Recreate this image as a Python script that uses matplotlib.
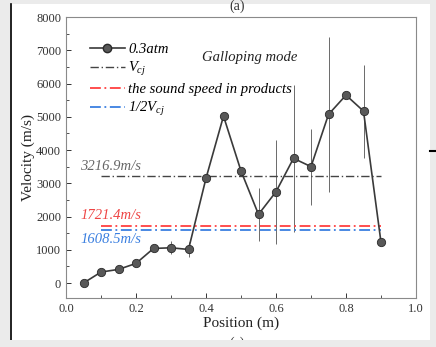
import numpy as np
import matplotlib.pyplot as plt
from matplotlib.patches import Rectangle
from matplotlib.lines import Line2D

# measured velocity along the tube, 0.3 atm
position = [0.05, 0.10, 0.15, 0.20, 0.25, 0.30, 0.35, 0.40, 0.45,
            0.50, 0.55, 0.60, 0.65, 0.70, 0.75, 0.80, 0.85, 0.90]
velocity = [0, 330, 410, 590, 1040, 1060, 1010, 3150, 5020,
            3370, 2065, 2745, 3750, 3500, 5070, 5650, 5170, 1225]
vel_err = [0, 0, 0, 0, 0, 200, 230, 0, 0,
           0, 800, 1570, 2210, 1140, 2320, 0, 1400, 0]

v_cj = 3216.9
sound_speed = 1721.4
half_v_cj = 1608.5
ref_x = [0.1, 0.9]

serif = 'Liberation Serif'
plt.rcParams['font.family'] = serif
plt.rcParams['font.size'] = 9
plt.rcParams['mathtext.fontset'] = 'custom'
plt.rcParams['mathtext.rm'] = serif
plt.rcParams['mathtext.it'] = serif + ':italic'

fig = plt.figure(figsize=(4.36, 3.47), dpi=100)
fig.patch.set_facecolor('#ebebeb')
fig.add_artist(Rectangle((12 / 436, 1 - 340 / 347), 418 / 436, 336 / 347,
                         transform=fig.transFigure, facecolor='white',
                         edgecolor='none', zorder=-5))
fig.add_artist(Line2D([11 / 436, 11 / 436], [1 - 340 / 347, 1 - 4 / 347],
                      transform=fig.transFigure, color='black', lw=1.2))
fig.add_artist(Line2D([430 / 436, 1.0], [1 - 151 / 347, 1 - 151 / 347],
                      transform=fig.transFigure, color='black', lw=1.5))

ax = fig.add_axes([66 / 436, 1 - 298 / 347, 350 / 436, 281 / 347])
ax.set_facecolor('white')

# error bars drawn separately so their grey differs from the line
err = np.array(vel_err)
mask = err > 0
ax.errorbar(np.array(position)[mask], np.array(velocity)[mask], yerr=err[mask],
            fmt='none', ecolor='#6a6a6a', elinewidth=0.7, capsize=0, zorder=2)

ax.plot(position, velocity, '-o', color='#3a3a3a', lw=1.2,
        marker='o', markersize=6.0, markerfacecolor='#585858',
        markeredgecolor='#2a2a2a', markeredgewidth=0.6, zorder=3)

dashdot = (0, (6, 2, 1, 2))
ax.plot(ref_x, [v_cj, v_cj], color='#444444', lw=1.0, ls=dashdot, zorder=2)
ax.plot(ref_x, [sound_speed, sound_speed], color='#ff4040', lw=1.3, ls=dashdot, zorder=2)
ax.plot(ref_x, [half_v_cj, half_v_cj], color='#3a7fe0', lw=1.3, ls=dashdot, zorder=2)

ax.text(0.04, v_cj + 80, '3216.9m/s', color='#666666', style='italic',
        fontsize=10.5, va='bottom')
ax.text(0.04, sound_speed + 110, '1721.4m/s', color='#ee4444', style='italic',
        fontsize=10.5, va='bottom')
ax.text(0.04, half_v_cj - 110, '1608.5m/s', color='#3a7fe0', style='italic',
        fontsize=10.5, va='top')

ax.text(0.526, 6780, 'Galloping mode', style='italic', fontsize=10.5,
        ha='center', va='center', color='#222222')

handles = [
    Line2D([], [], color='#3a3a3a', lw=1.2, marker='o', markersize=6,
           markerfacecolor='#585858', markeredgecolor='#2a2a2a'),
    Line2D([], [], color='#444444', lw=1.0, ls=dashdot),
    Line2D([], [], color='#ff4040', lw=1.3, ls=dashdot),
    Line2D([], [], color='#3a7fe0', lw=1.3, ls=dashdot),
]
labels = ['0.3atm', r'$V_{cj}$', 'the sound speed in products', r'1/2$V_{cj}$']
leg = ax.legend(handles, labels, loc='upper left', bbox_to_anchor=(0.03, 0.955),
                frameon=False, handlelength=2.4, handletextpad=0.25,
                labelspacing=0.3, prop={'family': serif, 'style': 'italic', 'size': 10.5})

ax.set_xlim(0, 1.0)
ax.set_ylim(-450, 8000)
ax.set_xticks([0.0, 0.2, 0.4, 0.6, 0.8, 1.0])
ax.set_xticks(np.arange(0.1, 1.0, 0.2), minor=True)
ax.set_yticks(np.arange(0, 8001, 1000))
ax.set_yticks(np.arange(500, 8000, 1000), minor=True)
ax.tick_params(direction='in', which='major', length=3.5, width=0.7,
               colors='#333333', labelcolor='#333333', labelsize=9)
ax.tick_params(direction='in', which='minor', length=2, width=0.6, colors='#333333')
for s in ax.spines.values():
    s.set_color('#8a8a8a')
    s.set_linewidth(0.8)

ax.set_xlabel('Position (m)', fontsize=11, labelpad=1, color='#222222')
ax.set_ylabel('Velocity (m/s)', fontsize=11, labelpad=1, color='#222222')

fig.text(237 / 436, 1 - 6 / 347, '(a)', ha='center', va='center', fontsize=10,
         color='#333333')
fig.text(237 / 436, 1 - 343 / 347, '(c)', ha='center', va='center', fontsize=10,
         color='#333333', zorder=1)
# grey band across the bottom hides the lower half of the next caption
fig.add_artist(Rectangle((0, 0), 1, 7 / 347, transform=fig.transFigure,
                         facecolor='#ebebeb', edgecolor='none', zorder=5))

fig.savefig('out.png', dpi=100, facecolor=fig.get_facecolor())
